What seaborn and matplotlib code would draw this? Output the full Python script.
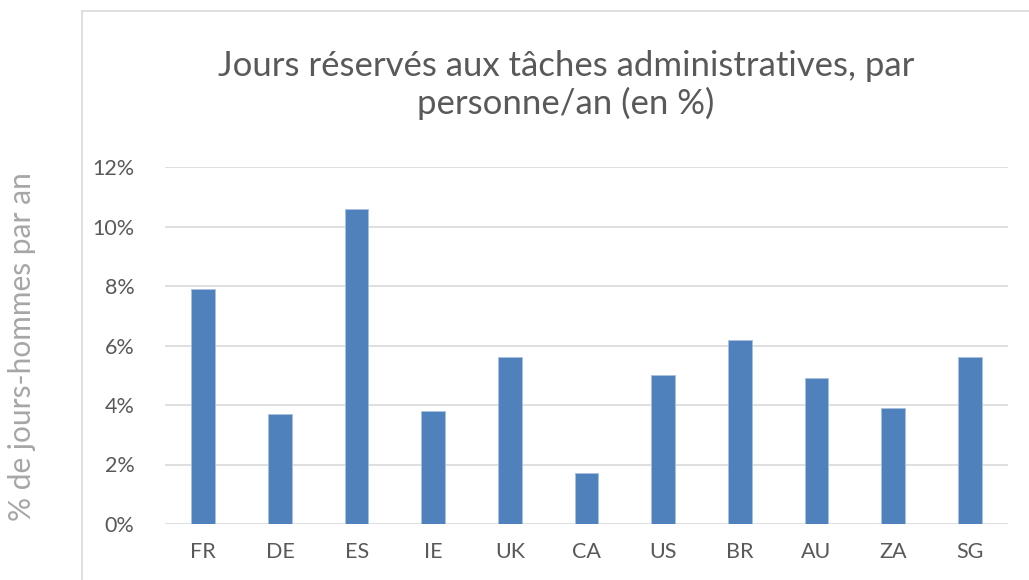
import matplotlib
matplotlib.use("Agg")
import matplotlib.pyplot as plt
import matplotlib.ticker as mticker
from matplotlib.lines import Line2D
import seaborn as sns
import pandas as pd

countries = ["FR", "DE", "ES", "IE", "UK", "CA", "US", "BR", "AU", "ZA", "SG"]
share_pct = [7.9, 3.7, 10.6, 3.8, 5.6, 1.7, 5.0, 6.2, 4.9, 3.9, 5.6]
y_ticks = [0, 2, 4, 6, 8, 10, 12]

title = "Jours réservés aux tâches administratives, par\npersonne/an (en %)"
ylab = "% de jours-hommes par an"

W, H = 1029, 580
sns.set_theme(style="white")
plt.rcParams['font.family'] = ['Lato', 'DejaVu Sans']

df = pd.DataFrame({"pays": countries, "part": share_pct})

fig = plt.figure(figsize=(W / 100, H / 100), dpi=100)
ax = fig.add_axes([165 / W, (H - 524) / H, (1008 - 165) / W, (524 - 167) / H])

sns.barplot(data=df, x="pays", y="part", color="#4F81BD", saturation=1,
            width=0.31, edgecolor="#A9C0DE", linewidth=0.6, ax=ax, zorder=3)

ax.set_ylim(0, 12)
ax.set_yticks(y_ticks)
ax.yaxis.set_major_formatter(mticker.FuncFormatter(lambda v, p: f"{v:.0f}%"))
ax.grid(axis="y", color="#D9D9D9", linewidth=1.2, zorder=0)
ax.set_axisbelow(True)
for s in ax.spines.values():
    s.set_visible(False)
ax.tick_params(axis="both", length=0, labelsize=15.5, labelcolor="#595959")
ax.tick_params(axis="y", pad=22)
ax.tick_params(axis="x", pad=13)
ax.set_xlabel("")
ax.set_ylabel("")

# chart frame (light grey)
fig.add_artist(Line2D([82 / W, 82 / W], [0, 1 - 11 / H], color="#D9D9D9", linewidth=1.2))
fig.add_artist(Line2D([82 / W, 1], [1 - 11 / H, 1 - 11 / H], color="#D9D9D9", linewidth=1.2))

fig.text(566 / W, 1 - 85 / H, title, ha="center", va="center", fontsize=25,
         color="#595959", linespacing=1.2)
fig.text(22 / W, 1 - 347 / H, ylab, ha="center", va="center", rotation=90,
         fontsize=21.5, color="#A6A6A6")

fig.savefig("out.png", dpi=100)
plt.close()
